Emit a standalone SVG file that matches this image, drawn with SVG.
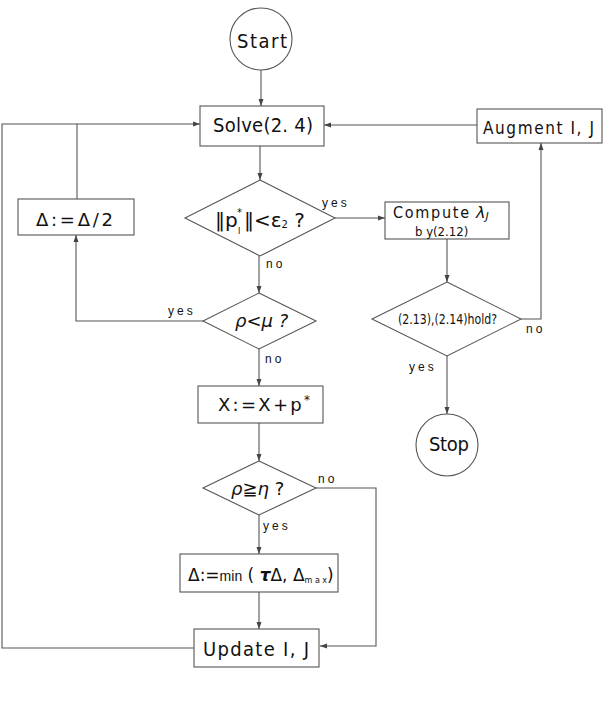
<svg xmlns="http://www.w3.org/2000/svg" width="616" height="707" viewBox="0 0 616 707">
<style>
.shape{fill:#fff;stroke:#555;stroke-width:1.1}
.line{fill:none;stroke:#555;stroke-width:1.1}
.t{font-family:"Liberation Sans Narrow","DejaVu Sans Condensed","Liberation Sans",sans-serif;fill:#111}
.lbl{font-family:"Liberation Sans","DejaVu Sans",sans-serif;font-size:12px;fill:#111;letter-spacing:3px}
.m{font-family:"DejaVu Sans","Liberation Sans",sans-serif;fill:#111}
</style>
<defs>
<marker id="arr" markerWidth="8" markerHeight="6" refX="7" refY="3" orient="auto" markerUnits="userSpaceOnUse">
<path d="M0,0.5 L7,3 L0,5.5 Z" fill="#444"/>
</marker>
</defs>
<rect width="616" height="707" fill="#fff"/>

<g id="connectors">
<line class="line" x1="261" y1="70" x2="261" y2="106" marker-end="url(#arr)"/>
<line class="line" x1="260" y1="146" x2="260" y2="180" marker-end="url(#arr)"/>
<polyline class="line" points="335,218 385,218" marker-end="url(#arr)"/>
<line class="line" x1="447" y1="239" x2="447" y2="282" marker-end="url(#arr)"/>
<polyline class="line" points="521,319 541,319 541,143" marker-end="url(#arr)"/>
<polyline class="line" points="477,125 324,125" marker-end="url(#arr)"/>
<line class="line" x1="447" y1="356" x2="447" y2="414" marker-end="url(#arr)"/>
<line class="line" x1="259" y1="256" x2="259" y2="293" marker-end="url(#arr)"/>
<polyline class="line" points="203,321 76,321 76,235" marker-end="url(#arr)"/>
<polyline class="line" points="77,199 77,124"/>
<line class="line" x1="259" y1="349" x2="259" y2="386" marker-end="url(#arr)"/>
<line class="line" x1="259" y1="423" x2="259" y2="461" marker-end="url(#arr)"/>
<line class="line" x1="259" y1="515" x2="259" y2="554" marker-end="url(#arr)"/>
<line class="line" x1="259" y1="592" x2="259" y2="629" marker-end="url(#arr)"/>
<polyline class="line" points="316,488 376,488 376,646 320,646" marker-end="url(#arr)"/>
<polyline class="line" points="194,648 2,648 2,124 200,124" marker-end="url(#arr)"/>
<text class="lbl" x="322" y="207">yes</text>
<text class="lbl" x="266" y="268">no</text>
<text class="lbl" x="168" y="315">yes</text>
<text class="lbl" x="265" y="363">no</text>
<text class="lbl" x="318" y="483">no</text>
<text class="lbl" x="263" y="530">yes</text>
<text class="lbl" x="409" y="371">yes</text>
<text class="lbl" x="526" y="333">no</text>
</g>

<g id="start">
<circle class="shape" cx="261" cy="39" r="31"/>
<text class="t" x="237" y="48" font-size="20" textLength="50" lengthAdjust="spacing">Start</text>
</g>

<g id="solve">
<rect class="shape" x="200" y="106" width="124" height="40"/>
<text class="t" x="213" y="132" font-size="20" textLength="100" lengthAdjust="spacing">Solve(2. 4)</text>
</g>

<g id="augment">
<rect class="shape" x="477" y="109" width="125" height="34"/>
<text class="t" x="483" y="134" font-size="17" textLength="111" lengthAdjust="spacing">Augment I, J</text>
</g>

<g id="halve">
<rect class="shape" x="18" y="199" width="116" height="36"/>
<text class="m" x="36" y="226" font-size="18" textLength="77" lengthAdjust="spacing">Δ:=Δ/2</text>
</g>

<g id="test-p">
<polygon class="shape" points="260,180 335,218 260,256 185,218"/>
<text class="m" x="215" y="227" font-size="20">‖p</text>
<text class="m" x="237" y="216" font-size="10">*</text>
<text class="m" x="238" y="234" font-size="8">I</text>
<text class="m" x="244" y="227" font-size="20">‖&lt;ε<tspan font-size="10" dy="1">2</tspan><tspan dy="-1"> ?</tspan></text>
</g>

<g id="compute">
<rect class="shape" x="385" y="202" width="124" height="37"/>
<text class="t" x="393" y="218" font-size="16" textLength="76" lengthAdjust="spacing">Compute</text>
<text class="m" x="476" y="218" font-size="16" font-style="italic">λ<tspan font-size="11" dy="2">J</tspan></text>
<text class="t" x="415" y="236" font-size="13">b y(2.12)</text>
</g>

<g id="test-hold">
<polygon class="shape" points="447,282 521,319 447,356 372,319"/>
<text class="t" x="398" y="324" font-size="14" textLength="99" lengthAdjust="spacingAndGlyphs">(2.13),(2.14)hold?</text>
</g>

<g id="stop">
<circle class="shape" cx="447" cy="445" r="31"/>
<text class="t" x="429" y="451" font-size="20" textLength="40" lengthAdjust="spacing">Stop</text>
</g>

<g id="test-rho-mu">
<polygon class="shape" points="259,293 316,321 259,349 203,321"/>
<text class="m" x="235" y="327" font-size="18" font-style="italic">ρ&lt;μ ?</text>
</g>

<g id="update-x">
<rect class="shape" x="198" y="386" width="125" height="37"/>
<text class="m" x="218" y="411" font-size="18" textLength="92" lengthAdjust="spacing">X:=X+p<tspan font-size="12" dy="-7">*</tspan></text>
</g>

<g id="test-rho-eta">
<polygon class="shape" points="259,461 316,488 259,515 203,488"/>
<text class="m" x="231" y="495" font-size="18"><tspan font-style="italic">ρ</tspan>≧<tspan font-style="italic">η</tspan> ?</text>
</g>

<g id="expand">
<rect class="shape" x="180" y="554" width="158" height="38"/>
<text class="m" x="188" y="581" font-size="17">Δ:=<tspan font-size="14" font-family="Liberation Sans Narrow, sans-serif">min</tspan> ( <tspan font-style="italic" font-weight="bold">τ</tspan>Δ, Δ<tspan font-size="8" dy="2">m a x</tspan><tspan dy="-2">)</tspan></text>
</g>

<g id="update-ij">
<rect class="shape" x="194" y="629" width="125" height="38"/>
<text class="t" x="203" y="656" font-size="20" textLength="106" lengthAdjust="spacing">Update I, J</text>
</g>
</svg>
